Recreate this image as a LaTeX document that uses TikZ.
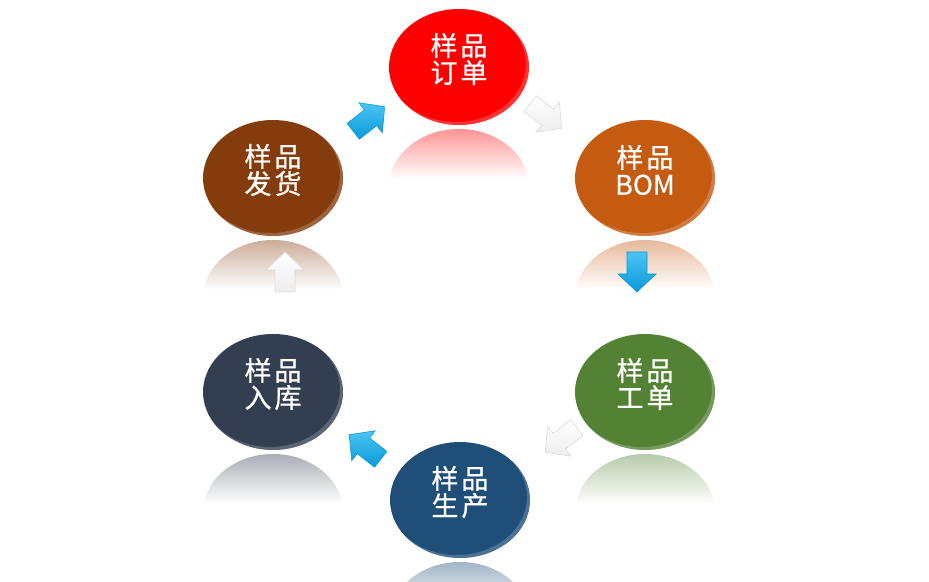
\documentclass[tikz,border=0pt]{standalone}
\usepackage{fontspec}
\newfontfamily\cjk[FakeBold=0.7]{Noto Sans CJK SC}
\usetikzlibrary{shapes.geometric}
\definecolor{cRed}{HTML}{FF0000}
\definecolor{cBom}{HTML}{C55A11}
\definecolor{cGd}{HTML}{548235}
\definecolor{cSc}{HTML}{1F4E79}
\definecolor{cRk}{HTML}{333F50}
\definecolor{cFh}{HTML}{843C0C}
\definecolor{aBlueL}{HTML}{4CC4F4}
\definecolor{aBlueD}{HTML}{0A9ADA}
\newcommand{\chgap}{\hspace{3pt}}
\begin{document}
\begin{tikzpicture}[x=1pt,y=1pt,
  bub/.style={ellipse, minimum width=140pt, minimum height=116pt, inner sep=0pt},
  bubtext/.style={text=white, font=\cjk\fontsize{27}{27}\selectfont, align=center, inner sep=0pt},
  bluearrow/.style={draw=aBlueD, line width=0.6pt, top color=aBlueL, bottom color=aBlueD},
  whitearrow/.style={draw=gray!28, line width=0.6pt, top color=white, bottom color=gray!14},
  pics/blockarrow/.style={code={
    \path[pic actions] (-20,-10) -- (2,-10) -- (2,-19) -- (20,0) -- (2,19) -- (2,10) -- (-20,10) -- cycle;}}]
\useasboundingbox (0,0) rectangle (929,581);
\clip (0,0) rectangle (929,581);
\fill[white] (0,0) rectangle (929,581);
% reflections
\foreach \x/\y/\c in {459/514/cRed, 645/403/cBom, 645/189/cGd, 460/81/cSc, 273/189/cRk, 273/403/cFh}{
  \begin{scope}
    \clip (\x,\y-120) ellipse (70 and 58);
    \shade[top color=\c!42!white, bottom color=white] (\x-72,\y-62) rectangle (\x+72,\y-112);
  \end{scope}
}
% bubbles
\node[bub, fill=cRed] (ord) at (459,514) {};
\node[bub, fill=cBom] (bom) at (645,403) {};
\node[bub, fill=cGd]  (gd)  at (645,189) {};
\node[bub, fill=cSc]  (sc)  at (460,81)  {};
\node[bub, fill=cRk]  (rk)  at (273,189) {};
\node[bub, fill=cFh]  (fh)  at (273,403) {};
% glossy rim
\foreach \n in {ord,bom,gd,sc,rk,fh}{
  \begin{scope}
    \clip (\n.center) ellipse (70 and 58);
    \fill[white, opacity=0.2, even odd rule] (\n.center) ellipse (70 and 58)
      ([shift={(-3,3)}]\n.center) ellipse (70 and 58);
  \end{scope}
}
% texts
\node[bubtext] (ordt) at ([yshift=8]ord.center) {样\chgap 品\\订\chgap 单};
\node[bubtext] (bomt) at ([yshift=8]bom.center) {样\chgap 品\\BOM};
\node[bubtext] (gdt)  at ([yshift=8]gd.center)  {样\chgap 品\\工\chgap 单};
\node[bubtext] (sct)  at ([yshift=8]sc.center)  {样\chgap 品\\生\chgap 产};
\node[bubtext] (rkt)  at ([yshift=8]rk.center)  {样\chgap 品\\入\chgap 库};
\node[bubtext] (fht)  at ([yshift=8]fh.center)  {样\chgap 品\\发\chgap 货};
% arrows
\pic[bluearrow, rotate=38]   (a1) at (369,462) {blockarrow};
\pic[whitearrow, rotate=-38] (a2) at (546,465) {blockarrow};
\pic[bluearrow, rotate=-90]  (a3) at (637,309) {blockarrow};
\pic[whitearrow, rotate=218] (a4) at (561,141) {blockarrow};
\pic[bluearrow, rotate=142]  (a5) at (365,134) {blockarrow};
\pic[whitearrow, rotate=90]  (a6) at (285,309) {blockarrow};
\end{tikzpicture}
\end{document}
